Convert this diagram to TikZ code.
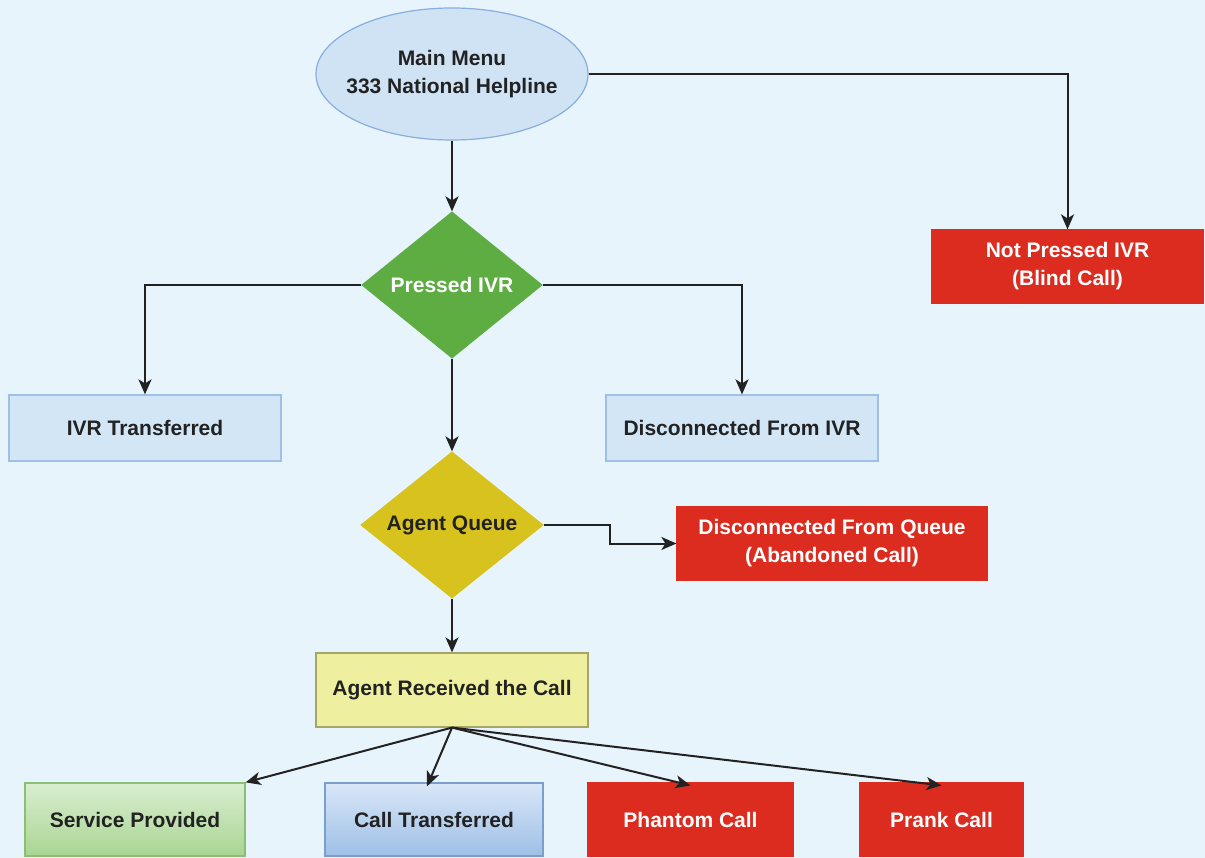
\documentclass[tikz,border=0pt]{standalone}
\usepackage{fontspec}
\setmainfont{Liberation Sans}
\usetikzlibrary{shapes.geometric,arrows.meta}
\definecolor{bg}{HTML}{E8F4FB}
\definecolor{lbfill}{HTML}{D2E6F5}
\definecolor{lbdraw}{HTML}{9FC0E6}
\definecolor{elfill}{HTML}{CFE3F5}
\definecolor{eldraw}{HTML}{88AEDD}
\definecolor{gdia}{HTML}{5EAD43}
\definecolor{ydia}{HTML}{D7C21E}
\definecolor{redb}{HTML}{DB2C1F}
\definecolor{ylfill}{HTML}{EEF0A0}
\definecolor{yldraw}{HTML}{A5A56A}
\definecolor{sptop}{HTML}{D8EED0}
\definecolor{spbot}{HTML}{A9D592}
\definecolor{spdraw}{HTML}{8BBF73}
\definecolor{cttop}{HTML}{D9E7F8}
\definecolor{ctbot}{HTML}{9EBFE6}
\definecolor{ctdraw}{HTML}{7A9FCC}
\definecolor{txt}{HTML}{222222}
\tikzset{
  base/.style={inner sep=0pt, align=center, text=txt, line width=1.2pt},
  lbbox/.style={base, rectangle, fill=lbfill, draw=lbdraw},
  redbox/.style={base, rectangle, fill=redb, draw=redb, text=white},
  diam/.style={base, diamond, aspect=1.25},
  arr/.style={draw=txt, line width=2pt, -{Stealth[length=15pt,width=13pt,inset=4pt]}},
}
\begin{document}
\begin{tikzpicture}[x=1pt,y=-1pt,font=\fontsize{21}{28}\selectfont\bfseries]
\fill[bg] (0,0) rectangle (1205,858);
\useasboundingbox (0,0) rectangle (1205,858);

\node[base, ellipse, inner xsep=-13pt, fill=elfill, draw=eldraw, minimum width=272pt, minimum height=132pt] (mm) at (452,74) {Main Menu\\333 National Helpline};
\node[diam, fill=gdia, draw=gdia, text=white, minimum width=180pt, minimum height=146pt] (piv) at (452,285) {Pressed IVR};
\node[redbox, minimum width=271pt, minimum height=73pt] (np) at (1067.5,266.5) {Not Pressed IVR\\(Blind Call)};
\node[lbbox, minimum width=272pt, minimum height=66pt] (ivrt) at (145,428) {IVR Transferred};
\node[lbbox, minimum width=272pt, minimum height=66pt] (dfi) at (742,428) {Disconnected From IVR};
\node[diam, fill=ydia, draw=ydia, minimum width=182pt, minimum height=146pt] (aq) at (452,525) {Agent Queue};
\node[redbox, minimum width=310pt, minimum height=73pt] (dfq) at (832,543.5) {Disconnected From Queue\\(Abandoned Call)};
\node[base, rectangle, fill=ylfill, draw=yldraw, minimum width=272pt, minimum height=74pt] (arc) at (452,690) {Agent Received the Call};
\node[base, rectangle, top color=sptop, bottom color=spbot, draw=spdraw, minimum width=220pt, minimum height=73pt] (sp) at (135,819.5) {Service Provided};
\node[base, rectangle, top color=cttop, bottom color=ctbot, draw=ctdraw, minimum width=218pt, minimum height=73pt] (ct) at (434,819.5) {Call Transferred};
\node[redbox, minimum width=205pt, minimum height=73pt] (ph) at (690.5,819.5) {Phantom Call};
\node[redbox, minimum width=163pt, minimum height=73pt] (pr) at (941.5,819.5) {Prank Call};

\draw[arr] (mm.south) -- (piv.north);
\draw[arr] (mm.east) -| (np.north);
\draw[arr] (piv.west) -| (ivrt.north);
\draw[arr] (piv.east) -| (dfi.north);
\draw[arr] (piv.south) -- (aq.north);
\draw[arr] (aq.east) -- ++(66,0) |- (dfq.west);
\draw[arr] (aq.south) -- (arc.north);
\draw[arr] (arc.south) -- (sp.north east);
\draw[arr] (arc.south) -- ([xshift=-7pt,yshift=-4pt]ct.north);
\draw[arr] (arc.south) -- ([yshift=-3pt]ph.north);
\draw[arr] (arc.south) -- ([yshift=-3pt]pr.north);
\end{tikzpicture}
\end{document}
